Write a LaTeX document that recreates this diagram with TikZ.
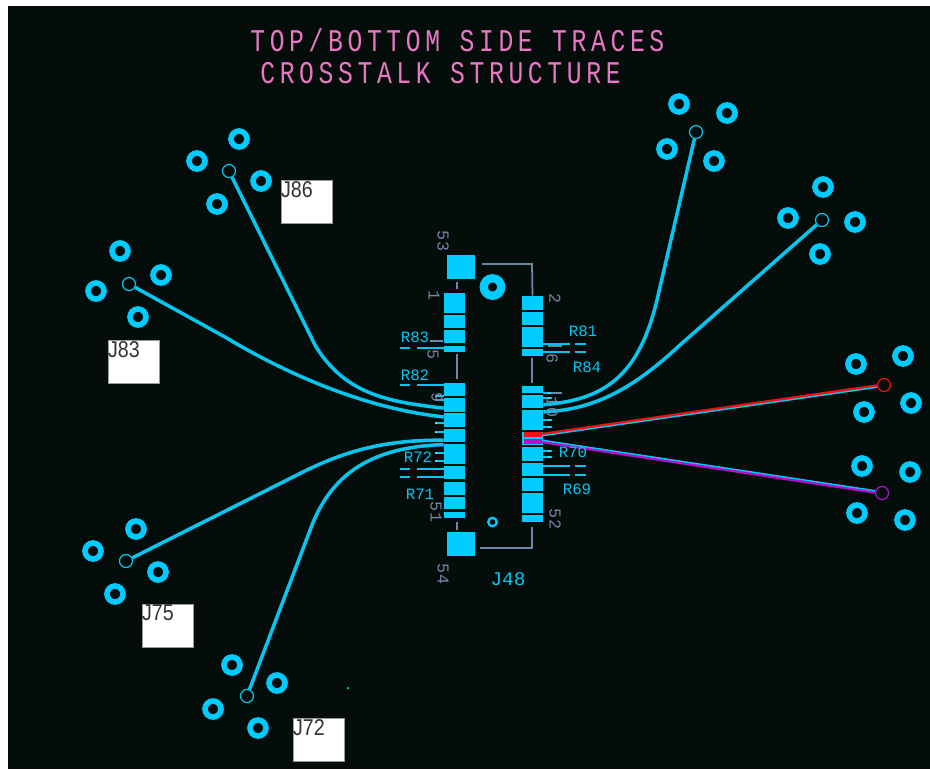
\documentclass[tikz,border=0pt]{standalone}
\usepackage{fontspec}
\setmainfont{Liberation Sans}
\newfontfamily\cadfont{Liberation Mono}
\newfontfamily\titlefont[FakeStretch=0.78,LetterSpace=14.7]{Liberation Mono}
\newfontfamily\idfont[FakeStretch=0.86]{Liberation Sans}
\usetikzlibrary{positioning}
\definecolor{board}{HTML}{050D0A}
\definecolor{copper}{HTML}{00CCFF}
\definecolor{tracecol}{HTML}{06C6F0}
\definecolor{silk}{HTML}{6F86A8}
\definecolor{titlecol}{HTML}{E878C4}
\definecolor{redtrace}{HTML}{F01010}
\definecolor{violettrace}{HTML}{B010D0}

\begin{document}
\begin{tikzpicture}[x=0.02cm, y=-0.02cm,
	pad node/.style={rectangle, fill=copper, inner sep=0pt, minimum width=0.42cm},
	big pad/.style={rectangle, fill=copper, inner sep=0pt, minimum width=0.56cm, minimum height=0.48cm},
	ring/.style={circle, draw=copper, line width=3.2pt, inner sep=0pt, minimum size=0.32cm},
	via/.style={circle, draw=tracecol, fill=board, line width=0.7pt, inner sep=0pt, minimum size=0.26cm},
	trace/.style={draw=tracecol, line width=2pt},
	stub/.style={draw=tracecol, line width=0.8pt},
	silkline/.style={draw=silk, line width=1pt},
	title/.style={text=titlecol, font=\titlefont\fontsize{18}{18}\selectfont, inner sep=0pt, anchor=west},
	ref/.style={text=tracecol, font=\cadfont\fontsize{9}{9}\selectfont, inner sep=0pt},
	pin/.style={text=silk, font=\cadfont\fontsize{9.5}{10}\selectfont, inner sep=0pt, rotate=-90},
	id box/.style={rectangle, fill=white, draw=black!40, line width=0.3pt, inner sep=0pt, minimum width=1.02cm, minimum height=0.86cm},
	id text/.style={text=black!80, font=\idfont\fontsize{13}{13}\selectfont, inner sep=0pt},
	tiny dot/.style={circle, fill=white, inner sep=0pt, minimum size=0.03cm}]

	\fill[white] (0,0) rectangle (930,769);
	\fill[board] (8,6) rectangle (930,769);
	\useasboundingbox (0,0) rectangle (930,769);

	\node[title] (title1) at (250,40) {TOP/BOTTOM SIDE TRACES};
	\node[title] (title2) at (260,73) {CROSSTALK STRUCTURE};

	% connector pads, name/centre/height
	\foreach \nm/\cy/\ht in {Lt1/303/20, Lt2/321.5/13, Lt3/336.5/13, Lt4/349/6,
			La/389.5/13, Lb/405/14, Lc/420/14, Ld/435.5/13, Le/454/20,
			Lf/472.5/13, Lg/488.5/13, Lh/503/12, Li/515/6}
		\node[pad node, minimum height=\ht*0.02cm] (\nm) at (454.5,\cy) {};
	\foreach \nm/\cy/\ht in {Rt1/303/14, Rt2/318.5/13, Rt3/337/20, Rt4/352.5/7,
			Ra/389.5/7, Rb/401.5/13, Rc/420/20, Rd/438.5/13, Re/454/14,
			Rf/469.5/13, Rg/484.5/13, Rh/503/20, Ri/518.5/7}
		\node[pad node, minimum height=\ht*0.02cm] (\nm) at (532.5,\cy) {};
	\node[big pad] (S53) at (461,267) {};
	\node[big pad] (S54) at (461,544) {};
	\node[circle, draw=copper, line width=4.7pt, inner sep=0pt, minimum size=0.35cm] (holeA) at (492.5,287) {};
	\node[circle, draw=copper, line width=1.3pt, inner sep=0pt, minimum size=0.17cm] (holeB) at (492.5,522) {};
	\node[circle, fill=copper, inner sep=0pt, minimum size=0.05cm] (dot) at (348,688) {};

	% split pad
	\node[rectangle, fill=redtrace, inner sep=0pt, minimum width=0.36cm, minimum height=0.1cm] (Rdred) at (533,434.5) {};
	\node[rectangle, fill=violettrace, inner sep=0pt, minimum width=0.36cm, minimum height=0.1cm] (Rdvio) at (533,441.5) {};

	% edge connector rings
	\foreach \nm/\px/\py in {a1/239/139, a2/197/161, a3/261/181, a4/217/204,
			b1/120/251, b2/161/275, b3/96/291, b4/138/317,
			c1/136/529, c2/93/551, c3/158/572, c4/115/594,
			d1/232/665, d2/277/683, d3/213/709, d4/258/728,
			e1/679/104, e2/727/113, e3/667/149, e4/714/161,
			f1/823/187, f2/788/218, f3/855/222, f4/820/254,
			g1/856/364, g2/903/356, g3/911/403, g4/864/412,
			h1/862/466, h2/910/472, h3/857/513, h4/905/520}
		\node[ring] (\nm) at (\px,\py) {};

	\node[via] (V86) at (229,171) {};
	\node[via] (V83) at (129,284) {};
	\node[via] (V75) at (126,561) {};
	\node[via] (V72) at (247,696) {};
	\node[via] (Vtop) at (696,132) {};
	\node[via] (Vupper) at (822,220) {};
	\node[via, draw=redtrace] (Vred) at (884,385) {};
	\node[via, draw=violettrace] (Vvio) at (882,493) {};

	% traces
	\draw[trace] (V86) -- (315,345) .. controls (345,395) and (390,402) .. (Lb.196);
	\draw[trace] (V83) -- (225,337) .. controls (280,370) and (360,408) .. (Lc.164);
	\draw[trace] (V75) -- (295,476) .. controls (345,450) and (385,440) .. (Ld.203);
	\draw[trace] (V72) -- (312,525) .. controls (332,475) and (370,447) .. (Le.139);
	\draw[trace] (Vtop) -- (657,300) .. controls (640,370) and (610,400) .. (Rb.-16);
	\draw[trace] (Vupper) -- (680,345) .. controls (640,382) and (600,410) .. (Rc.37);
	\draw[draw=redtrace, line width=2pt] (Rdred.east) -- (Vred);
	\draw[draw=tracecol, line width=0.8pt, transform canvas={yshift=-0.7pt}] (Rdred.east) -- (Vred);
	\draw[draw=violettrace, line width=2pt] (Rdvio.east) -- (Vvio);
	\draw[draw=tracecol, line width=0.8pt, transform canvas={yshift=0.7pt}] (Rdvio.east) -- (Vvio);

	% silk outline
	\draw[silkline] (482,264) -- (532,264) -- (Rt1.north);
	\draw[silkline] (480,548) -- (532,548) -- (532,527);
	\draw[silkline] (457,282) -- (457,289);
	\draw[silkline] (457,354) -- (457,379);
	\draw[silkline] (457,522) -- (457,530);
	\draw[silkline] (532,358) -- (532,383);
	\foreach \y in {341,385}
		\draw[silkline] (430,\y) -- (443,\y);
	\foreach \y in {346,393}
		\draw[silkline] (548,\y) -- (562,\y);

	% resistor stubs
	\foreach \y in {396,400,423,432,453,461} {
		\draw[stub] (444,\y) -- (435,\y);
		\node[tiny dot] at (436,\y) {};
	}
	\foreach \y in {393,398,420,427,451,457} {
		\draw[stub] (543,\y) -- (552,\y);
		\node[tiny dot] at (549,\y) {};
	}
	\foreach \y in {348,385,469,477}
		\draw[stub] (444,\y) -- (417,\y) (410,\y) -- (400,\y);
	\foreach \y in {344,352,466,475}
		\draw[stub] (543,\y) -- (570,\y) (575,\y) -- (586,\y);

	\node[ref] (R83) at (415,337) {R83};
	\node[ref] (R82) at (415,375) {R82};
	\node[ref] (R72) at (418,457) {R72};
	\node[ref] (R71) at (420,494) {R71};
	\node[ref] (R81) at (583,331) {R81};
	\node[ref] (R84) at (587,367) {R84};
	\node[ref] (R70) at (573,452) {R70};
	\node[ref] (R69) at (577,489) {R69};
	\node[ref, font=\cadfont\fontsize{11}{11}\selectfont] (J48) at (508,579) {J48};

	\node[pin] (p53) at (443,241) {53};
	\node[pin] (p54) at (443,574) {54};
	\node[pin] (p51) at (436,512) {51};
	\node[pin] (p52) at (555,519) {52};
	\node[pin] (p1) at (434,295) {1};
	\node[pin] (p2) at (555,298) {2};
	\node[pin] (p5) at (433,354) {5};
	\node[pin] (p6) at (552,358) {6};
	\node[pin] (p9) at (437,397) {9};
	\node[pin] (p10) at (552,407) {10};

	% white id boxes
	\node[id box] (B86) at (306.5,201.5) {};
	\node[id box] (B83) at (133.5,362) {};
	\node[id box] (B75) at (167.5,625.5) {};
	\node[id box] (B72) at (318.5,740) {};
	\node[id text, below right=0.6pt and 0pt of B86.north west] (J86) {J86};
	\node[id text, below right=0.6pt and 0pt of B83.north west] (J83) {J83};
	\node[id text, below right=0.6pt and 0pt of B75.north west] (J75) {J75};
	\node[id text, below right=0.6pt and 0pt of B72.north west] (J72) {J72};
\end{tikzpicture}
\end{document}
